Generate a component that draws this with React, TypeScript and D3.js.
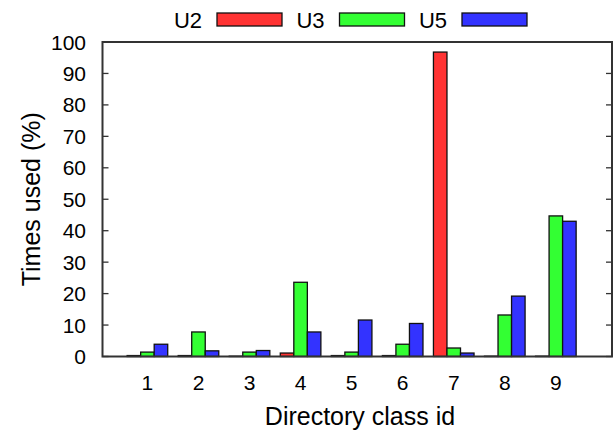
import React from "react"
import * as d3 from "d3"

const categories = [1, 2, 3, 4, 5, 6, 7, 8, 9]
const seriesNames = ["U2", "U3", "U5"]
const seriesColors = ["#ff3333", "#33ff33", "#3333ff"]
const u2 = [0.3, 0.3, 0.1, 1.1, 0.3, 0.3, 96.8, 0.1, 0.1]
const u3 = [1.4, 7.8, 1.4, 23.6, 1.4, 3.9, 2.7, 13.2, 44.7]
const u5 = [3.9, 1.8, 1.9, 7.8, 11.6, 10.5, 1.1, 19.2, 43.0]
const yTicks = [0, 10, 20, 30, 40, 50, 60, 70, 80, 90, 100]

const W = 613
const H = 431
const margin = { left: 102.5, right: 1, top: 42, bottom: 74.5 }
const font = "Liberation Sans"

export default function App() {
  const series = [u2, u3, u5]
  const x = d3.scaleLinear().domain([0.12, 10.1]).range([margin.left, W - margin.right])
  const y = d3.scaleLinear().domain([0, 100]).range([H - margin.bottom, margin.top])
  const barW = 0.265
  const bw = x(barW) - x(0)

  return (
    <svg width={W} height={H} style={{ position: "absolute", left: 0, top: 0, background: "#fff", fontFamily: font }}>
      {/* bars */}
      {categories.map((c, i) => (
        <g key={c}>
          {series.map((s, j) => (
            <rect
              key={j}
              x={x(c + (j - 1.5) * barW)}
              y={y(s[i])}
              width={bw}
              height={y(0) - y(s[i])}
              fill={seriesColors[j]}
              stroke="#111"
              strokeWidth={1.3}
            />
          ))}
        </g>
      ))}

      {/* y ticks, left and mirrored right */}
      {yTicks.map(t => (
        <g key={t}>
          <line x1={x.range()[0]} x2={x.range()[0] + 6} y1={y(t)} y2={y(t)} stroke="#333" strokeWidth={1.3} />
          <line x1={x.range()[1]} x2={x.range()[1] - 6} y1={y(t)} y2={y(t)} stroke="#333" strokeWidth={1.3} />
          <text x={86} y={y(t)} dy="0.36em" textAnchor="end" fontSize={21} fill="#000">
            {t}
          </text>
        </g>
      ))}

      {/* frame */}
      <rect
        x={x.range()[0]}
        y={y(100)}
        width={x.range()[1] - x.range()[0]}
        height={y(0) - y(100)}
        fill="none"
        stroke="#333"
        strokeWidth={2}
      />

      {/* x tick labels */}
      {categories.map(c => (
        <text key={c} x={x(c)} y={390} textAnchor="middle" fontSize={21} fill="#000">
          {c}
        </text>
      ))}

      {/* axis titles */}
      <text x={360} y={425} textAnchor="middle" fontSize={25} fill="#000">
        Directory class id
      </text>
      <text
        transform={`translate(40,${(y(0) + y(100)) / 2}) rotate(-90)`}
        textAnchor="middle"
        fontSize={25}
        fill="#000"
      >
        Times used (%)
      </text>

      {/* legend */}
      {seriesNames.map((n, j) => (
        <g key={n} transform={`translate(${202 + j * 122.5},0)`}>
          <text x={0} y={28} textAnchor="end" fontSize={22} fill="#000">
            {n}
          </text>
          <rect x={15} y={13} width={65} height={13} fill={seriesColors[j]} stroke="#111" strokeWidth={1.3} />
        </g>
      ))}
    </svg>
  )
}
